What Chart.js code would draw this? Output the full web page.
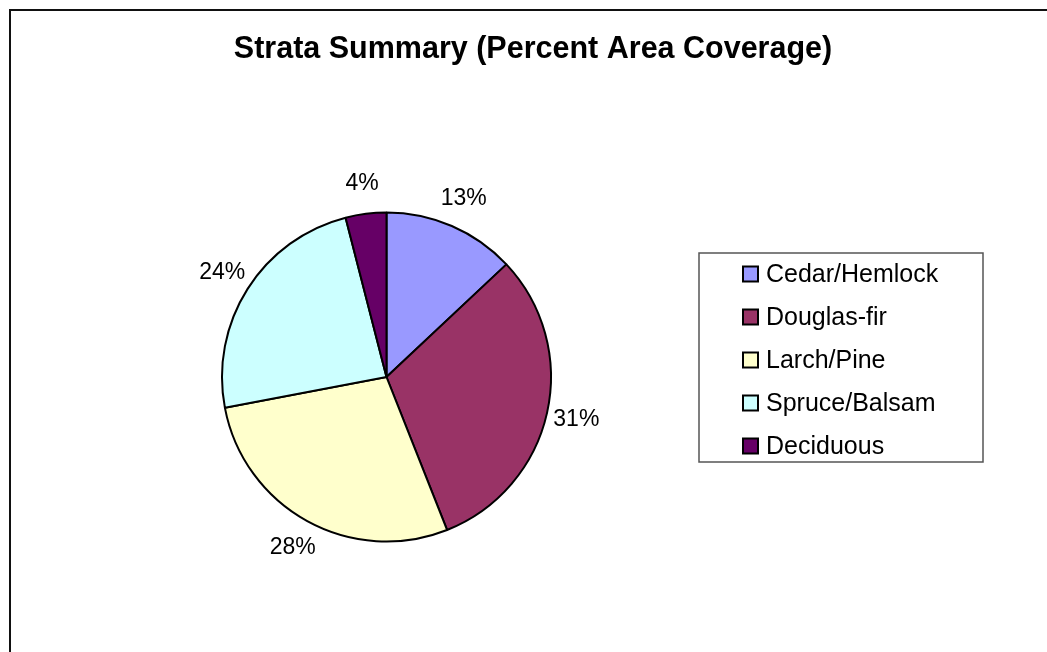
<!DOCTYPE html>
<html>
<head>
<meta charset="utf-8">
<title>Strata Summary</title>
<script src="https://cdn.jsdelivr.net/npm/chart.js@4/dist/chart.umd.min.js"></script>
<style>
    body { margin: 0; background: #fff; }
    canvas { display: block; }
</style>
</head>
<body>
<canvas id="strataChart" width="1047" height="652"></canvas>
<script>
// Strata categories and their share of the area (percent)
const strata = ['Cedar/Hemlock', 'Douglas-fir', 'Larch/Pine', 'Spruce/Balsam', 'Deciduous'];
const coverage = [13, 31, 28, 24, 4];
const sliceColors = ['#9999FF', '#993366', '#FFFFCC', '#CCFFFF', '#660066'];
const chartTitle = 'Strata Summary (Percent Area Coverage)';

const FONT = 'Arial, "Liberation Sans", sans-serif';

// Draws the frame, title, percent labels and the boxed legend
const decorations = {
    id: 'decorations',
    afterDraw(chart) {
        const ctx = chart.ctx;
        ctx.save();

        // outer frame (runs off the right and bottom edges)
        ctx.strokeStyle = '#111';
        ctx.lineWidth = 2;
        ctx.strokeRect(10, 10, 1100, 700);

        // title
        ctx.fillStyle = '#000';
        ctx.font = 'bold 30.5px ' + FONT;
        ctx.textAlign = 'center';
        ctx.textBaseline = 'alphabetic';
        ctx.fillText(chartTitle, 533, 58);

        // percent labels outside each slice
        const meta = chart.getDatasetMeta(0);
        const total = coverage.reduce((a, b) => a + b, 0);
        ctx.font = '23px ' + FONT;
        ctx.textBaseline = 'middle';
        meta.data.forEach((arc, i) => {
            const mid = (arc.startAngle + arc.endAngle) / 2;
            const r = arc.outerRadius + 30;
            const x = arc.x + Math.cos(mid) * r;
            const y = arc.y + Math.sin(mid) * r;
            ctx.fillText(Math.round(coverage[i] / total * 100) + '%', x, y);
        });

        // legend
        ctx.strokeStyle = '#555';
        ctx.lineWidth = 1.5;
        ctx.strokeRect(699, 253, 284, 209);
        ctx.font = '25px ' + FONT;
        ctx.textAlign = 'left';
        strata.forEach((name, i) => {
            const rowY = 274 + i * 43;
            ctx.fillStyle = sliceColors[i];
            ctx.fillRect(743, rowY - 7.5, 15, 15);
            ctx.strokeStyle = '#000';
            ctx.lineWidth = 2;
            ctx.strokeRect(743, rowY - 7.5, 15, 15);
            ctx.fillStyle = '#000';
            ctx.fillText(name, 766, rowY + 1);
        });

        ctx.restore();
    }
};

function renderStrataChart() {
    const ctx = document.getElementById('strataChart').getContext('2d');
    new Chart(ctx, {
        type: 'pie',
        data: {
            labels: strata,
            datasets: [{
                data: coverage,
                backgroundColor: sliceColors,
                borderColor: '#000',
                borderWidth: 2
            }]
        },
        options: {
            responsive: false,
            animation: false,
            layout: {
                padding: { left: 221, right: 495, top: 211, bottom: 109 }
            },
            plugins: {
                legend: { display: false },
                title: { display: false },
                tooltip: { enabled: false }
            }
        },
        plugins: [decorations]
    });
}

window.onload = renderStrataChart;
</script>
</body>
</html>
